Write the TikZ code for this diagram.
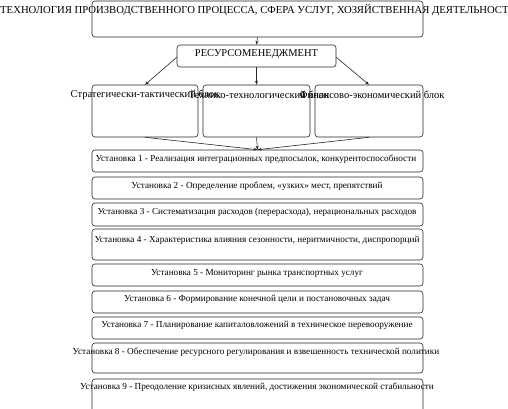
\documentclass[tikz,border=0pt]{standalone}
\usepackage{fontspec}
\setmainfont{Liberation Serif}
\usetikzlibrary{arrows.meta}
\tikzset{
  box/.style={draw=black!85, line width=0.6pt, rounded corners=3pt, inner sep=0pt},
  txt/.style={inner sep=0pt, font=\fontsize{9.2}{10}\selectfont},
  btxt/.style={inner sep=0pt, font=\fontsize{10.5}{11}\selectfont},
  arr/.style={draw=black!85, line width=0.6pt, -{Stealth[length=4pt,width=3pt]}},
}
\begin{document}
\begin{tikzpicture}[x=1pt,y=-1pt]
\useasboundingbox (0,0) rectangle (508,408);
% top
\node[box, minimum width=331pt, minimum height=36pt] (top) at (257.5,19) {};
\node[inner sep=0pt, font=\fontsize{10.7}{11}\selectfont, anchor=west] (ttop) at (0,10) {ТЕХНОЛОГИЯ ПРОИЗВОДСТВЕННОГО ПРОЦЕССА, СФЕРА УСЛУГ, ХОЗЯЙСТВЕННАЯ ДЕЯТЕЛЬНОСТ};
% resource
\node[box, minimum width=159pt, minimum height=22pt] (res) at (256.5,56) {};
\node[btxt] (tres) at (256.5,54) {РЕСУРСОМЕНЕДЖМЕНТ};
% blocks
\node[box, minimum width=106pt, minimum height=52pt] (b1) at (145,111) {};
\node[box, minimum width=107pt, minimum height=52pt] (b2) at (256.5,111) {};
\node[box, minimum width=108pt, minimum height=52pt] (b3) at (369,111) {};
\node[btxt] (tb1) at (145,95) {Стратегически-тактический блок};
\node[btxt] (tb2) at (259,95) {Технико-технологический блок};
\node[btxt] (tb3) at (372,95) {Финансово-экономический блок};
% установки
\foreach \n/\yt/\yb in {1/150/172, 2/177/199, 3/203/226, 4/229/260, 5/264/286, 6/291/313, 7/317/339, 8/343/373, 9/379/412}{
  \node[box, minimum width=331pt, minimum height={(\yb-\yt)*1pt}] (u\n) at (257.5,{(\yt+\yb)/2}) {};
}
\node[txt] (tu1) at (256,159) {Установка 1 - Реализация интеграционных предпосылок, конкурентоспособности};
\node[txt] (tu2) at (257,186) {Установка 2 - Определение проблем, «узких» мест, препятствий};
\node[txt] (tu3) at (257,212) {Установка 3 - Систематизация расходов (перерасхода), нерациональных расходов};
\node[txt] (tu4) at (257,240) {Установка 4 - Характеристика влияния сезонности, неритмичности, диспропорций};
\node[txt] (tu5) at (257,273) {Установка 5 - Мониторинг рынка транспортных услуг};
\node[txt] (tu6) at (257,299) {Установка 6 - Формирование конечной цели и постановочных задач};
\node[txt] (tu7) at (257,325) {Установка 7 - Планирование капиталовложений в техническое перевооружение};
\node[txt] (tu8) at (256,352) {Установка 8 - Обеспечение ресурсного регулирования и взвешенность технической политики};
\node[txt] (tu9) at (257,387) {Установка 9 - Преодоление кризисных явлений, достижения экономической стабильности};
% arrows
\draw[arr] (top.south) -- (res.north);
\draw[arr] ([yshift=10pt]res.south west) -- (b1.north);
\draw[arr] (res.south) -- (b2.north);
\draw[arr] ([yshift=10pt]res.south east) -- (b3.north);
\draw[arr] (b1.south) -- (u1.north);
\draw[arr] (b2.south) -- (u1.north);
\draw[arr] (b3.south) -- (u1.north);
\end{tikzpicture}
\end{document}
